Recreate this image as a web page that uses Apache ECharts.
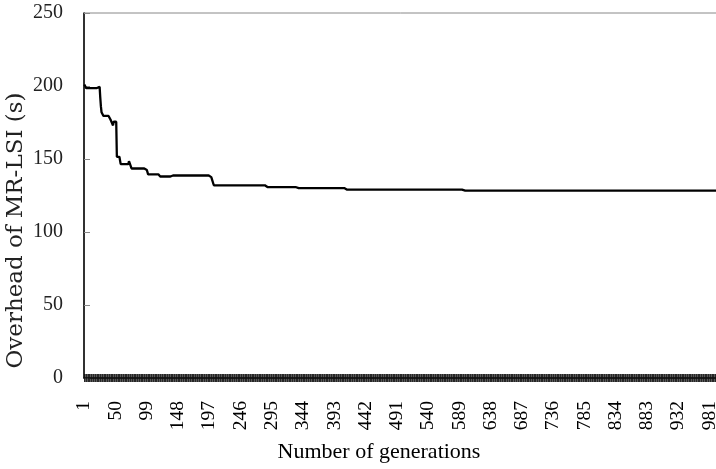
<!DOCTYPE html>
<html>
<head>
<meta charset="utf-8">
<script src="https://cdn.jsdelivr.net/npm/echarts@6/dist/echarts.min.js"></script>
<style>
html,body{margin:0;padding:0;background:#fff;}
#chart{width:716px;height:469px;}
</style>
</head>
<body>
<div id="chart"></div>
<script>
// Number of generations shown on the category axis
var generationCount = 1000;
// Overhead of MR-LSI (s): step curve read off the picture as
// (first generation of a step, value held from that generation on)
var stepStartGen = [1,   4,     21,    26,  27,  28,  31,    42,  46,  47,    52,    58,    71,    75,    97,    101,   120, 140,   200,   204, 288,   335, 411, 594];
var stepValue    = [201, 198.5, 199.5, 192, 186, 182, 179.5, 177, 173, 175.5, 151.5, 146.5, 148.5, 143.5, 142.5, 139.5, 138, 138.7, 137.6, 132, 130.8, 130, 129, 128.3];
// Y tick values
var yTicks = [0, 50, 100, 150, 200, 250];

var generations = [];
for (var g = 1; g <= generationCount; g++) generations.push(String(g));
var overhead = [];
var k = 0;
for (var g2 = 1; g2 <= generationCount; g2++) {
  while (k + 1 < stepStartGen.length && g2 >= stepStartGen[k + 1]) k++;
  overhead.push(stepValue[k]);
}

var chart = echarts.init(document.getElementById('chart'), null, {renderer: 'canvas'});
chart.setOption({
  animation: false,
  backgroundColor: '#ffffff',
  grid: {left: 84, top: 13, right: -6, bottom: 91, outerBoundsMode: 'none', containLabel: false, show: true, borderColor: '#888888', borderWidth: 1, backgroundColor: 'transparent'},
  xAxis: [{
    type: 'category',
    data: generations,
    boundaryGap: true,
    position: 'bottom',
    name: 'Number of generations',
    nameLocation: 'middle',
    nameGap: 63,
    nameMoveOverlap: false,
    nameTextStyle: {fontFamily: 'Liberation Serif', fontSize: 22, color: '#000', padding: [0, 48, 0, 0]},
    axisLine: {show: true, lineStyle: {color: '#000', width: 1.5}},
    axisTick: {show: true, interval: 0, length: 4, inside: false, lineStyle: {color: '#111', width: 0.7}},
    axisLabel: {interval: 48, rotate: 90, margin: 23, fontFamily: 'Liberation Serif', fontSize: 19.5, color: '#000'},
    splitLine: {show: false}
  }, {
    type: 'category',
    data: generations,
    boundaryGap: true,
    position: 'bottom',
    axisLine: {show: false},
    axisTick: {show: true, interval: 0, length: 4, inside: true, lineStyle: {color: '#111', width: 0.7}},
    axisLabel: {show: false},
    splitLine: {show: false}
  }],
  yAxis: {
    type: 'value',
    min: 0,
    max: 250,
    interval: 50,
    name: 'Overhead of MR-LSI (s)',
    nameLocation: 'middle',
    nameRotate: 90,
    nameGap: 56,
    nameMoveOverlap: false,
    nameTextStyle: {fontFamily: 'DejaVu Serif', fontSize: 23, color: '#222', padding: [0, 70, 0, 0]},
    axisLine: {show: true, lineStyle: {color: '#000', width: 1.5}},
    axisTick: {show: true, inside: true, length: 6, lineStyle: {color: '#888', width: 1}},
    axisLabel: {margin: 21, fontFamily: 'Liberation Serif', fontSize: 20, color: '#222'},
    splitLine: {show: false}
  },
  series: [{
    type: 'line',
    xAxisIndex: 0,
    data: overhead,
    showSymbol: false,
    symbol: 'none',
    lineStyle: {color: '#000', width: 2.3},
    z: 5
  }]
});
</script>
</body>
</html>
